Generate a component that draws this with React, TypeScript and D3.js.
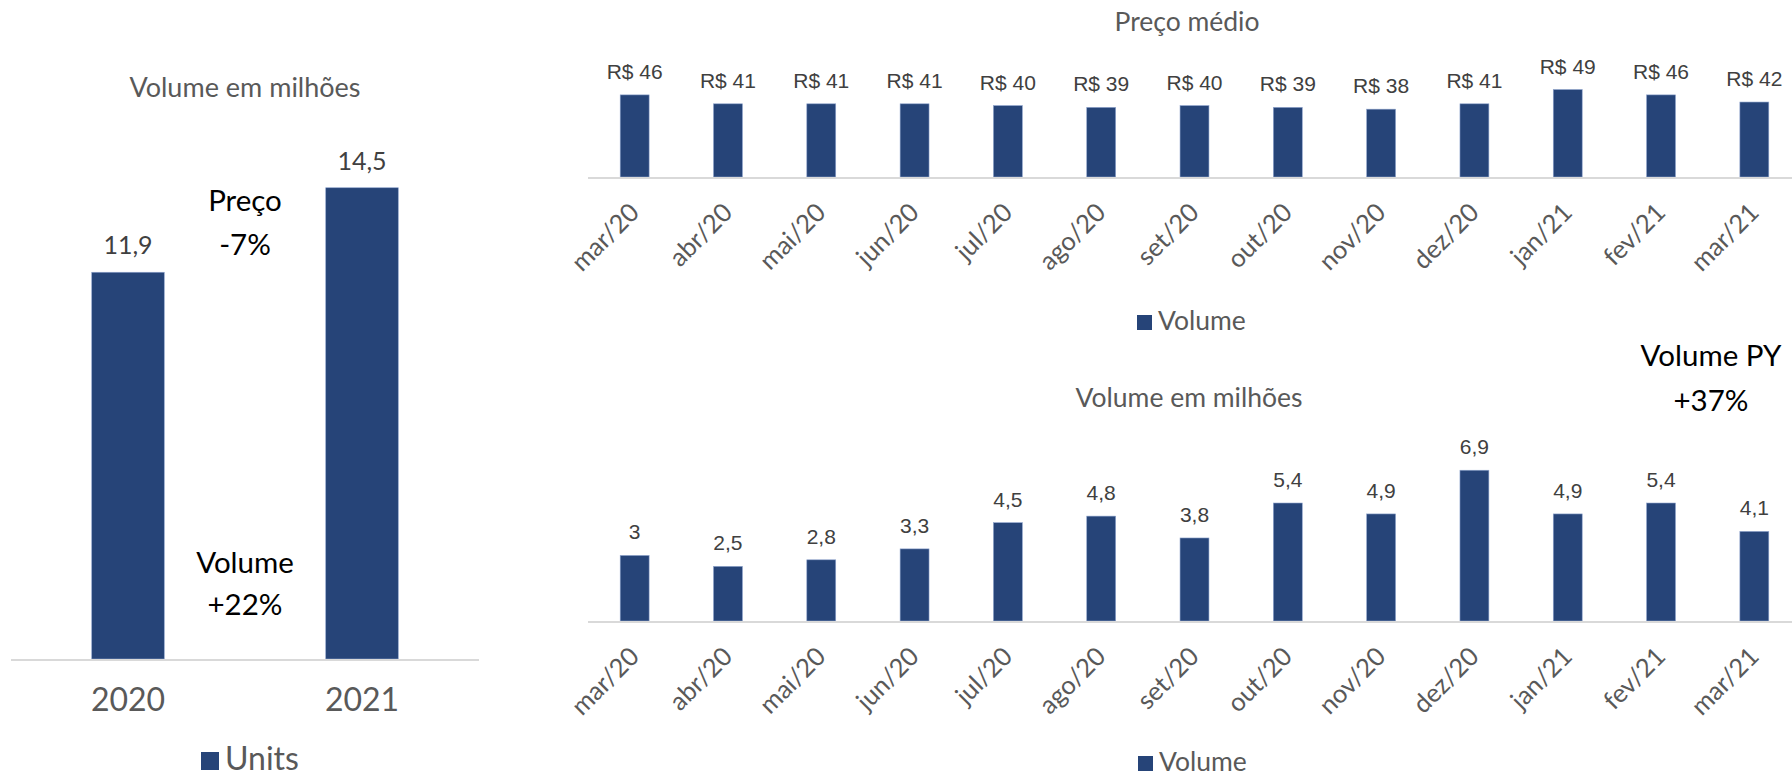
import { scaleBand, scaleLinear, formatLocale } from 'd3';

// valores
const anos = ['2020', '2021'];
const volumeAnual = [11.9, 14.5];

const meses = ['mar/20', 'abr/20', 'mai/20', 'jun/20', 'jul/20', 'ago/20', 'set/20', 'out/20', 'nov/20', 'dez/20', 'jan/21', 'fev/21', 'mar/21'];
const precoMedio = [46, 41, 41, 41, 40, 39, 40, 39, 38, 41, 49, 46, 42];
const volumeMensal = [3, 2.5, 2.8, 3.3, 4.5, 4.8, 3.8, 5.4, 4.9, 6.9, 4.9, 5.4, 4.1];

const W = 1792;
const H = 776;
const BAR = '#264478';
const AXIS = '#d9d9d9';
const GRAY = '#595959';
const LABEL = '#404040';
const LATO = 'Lato, "Open Sans", sans-serif';
const ARIAL = '"Liberation Sans", Arial, sans-serif';

const pt = formatLocale({ decimal: ',', thousands: '.', grouping: [3], currency: ['R$ ', ''] });
const fmtVol = pt.format('~r');
const fmtPreco = (v: number) => `R$ ${v}`;

function MonthChart({ values, yBase, yMax, pxPerUnit, label }: {
  values: number[];
  yBase: number;
  yMax: number;
  pxPerUnit: number;
  label: (v: number) => string;
}) {
  const x = scaleBand<string>().domain(meses).range([588, 1801]).paddingInner(0.69).paddingOuter(0.345);
  const y = scaleLinear().domain([0, yMax]).range([yBase, yBase - yMax * pxPerUnit]);
  return (
    <g>
      {values.map((v, i) => (
        <rect key={meses[i]} x={x(meses[i])} y={y(v)} width={x.bandwidth()} height={y(0) - y(v)} fill={BAR} stroke="#8ea3cc" strokeWidth={0.6} />
      ))}
      <line x1={588} x2={W} y1={yBase + 1} y2={yBase + 1} stroke={AXIS} strokeWidth={2} />
      {values.map((v, i) => (
        <text key={'l' + meses[i]} x={x(meses[i])! + x.bandwidth() / 2} y={y(v) - 16} textAnchor="middle" fontFamily={ARIAL} fontSize={21} fill={LABEL}>
          {label(v)}
        </text>
      ))}
      {meses.map((m) => (
        <text key={'t' + m} transform={`translate(${x(m)! + x.bandwidth() / 2 + 6}, ${yBase + 37}) rotate(-45)`} textAnchor="end" fontFamily={LATO} fontSize={25.5} fill={GRAY}>
          {m}
        </text>
      ))}
    </g>
  );
}

function Legend({ x, y, size, fontSize, text }: { x: number; y: number; size: number; fontSize: number; text: string }) {
  return (
    <g>
      <rect x={x} y={y - size} width={size} height={size} fill={BAR} />
      <text x={x + size + 6} y={y} fontFamily={LATO} fontSize={fontSize} fill={GRAY}>{text}</text>
    </g>
  );
}

export default function App() {
  const xA = scaleBand<string>().domain(anos).range([11, 479]).paddingInner(0.69).paddingOuter(0.345);
  const yA = scaleLinear().domain([0, 16]).range([659, 659 - 16 * 32.5]);

  return (
    <svg width={W} height={H} style={{ position: 'absolute', left: 0, top: 0, background: '#fff' }}>
      {/* gráfico anual */}
      <text x={245} y={97} textAnchor="middle" fontFamily={LATO} fontSize={27} fill={GRAY}>Volume em milhões</text>
      {volumeAnual.map((v, i) => (
        <rect key={anos[i]} x={xA(anos[i])} y={yA(v)} width={xA.bandwidth()} height={yA(0) - yA(v)} fill={BAR} stroke="#8ea3cc" strokeWidth={0.6} />
      ))}
      <line x1={11} x2={479} y1={660} y2={660} stroke={AXIS} strokeWidth={2} />
      {volumeAnual.map((v, i) => (
        <text key={'v' + anos[i]} x={xA(anos[i])! + xA.bandwidth() / 2} y={yA(v) - 18} textAnchor="middle" fontFamily={LATO} fontSize={25} fill={LABEL}>
          {fmtVol(v)}
        </text>
      ))}
      {anos.map((a) => (
        <text key={'a' + a} x={xA(a)! + xA.bandwidth() / 2} y={711} textAnchor="middle" fontFamily={LATO} fontSize={32} fill={GRAY}>{a}</text>
      ))}
      <g fontFamily={LATO} fontSize={29.5} fill="#000" textAnchor="middle">
        <text x={245} y={211}>Preço</text>
        <text x={245} y={255}>-7%</text>
        <text x={245} y={573}>Volume</text>
        <text x={245} y={615}>+22%</text>
      </g>
      <Legend x={201} y={770} size={18} fontSize={32} text="Units" />

      {/* preço médio mensal */}
      <text x={1187} y={31} textAnchor="middle" fontFamily={LATO} fontSize={26.5} fill={GRAY}>Preço médio</text>
      <MonthChart values={precoMedio} yBase={177} yMax={50} pxPerUnit={1.785} label={fmtPreco} />
      <Legend x={1137} y={330} size={15} fontSize={26.5} text="Volume" />

      {/* volume mensal */}
      <text x={1189} y={407} textAnchor="middle" fontFamily={LATO} fontSize={26.5} fill={GRAY}>Volume em milhões</text>
      <g fontFamily={LATO} fontSize={29.5} fill="#000" textAnchor="middle">
        <text x={1711} y={366}>Volume PY</text>
        <text x={1711} y={411}>+37%</text>
      </g>
      <MonthChart values={volumeMensal} yBase={621} yMax={7} pxPerUnit={21.85} label={fmtVol} />
      <Legend x={1138} y={771} size={15} fontSize={26.5} text="Volume" />
    </svg>
  );
}
